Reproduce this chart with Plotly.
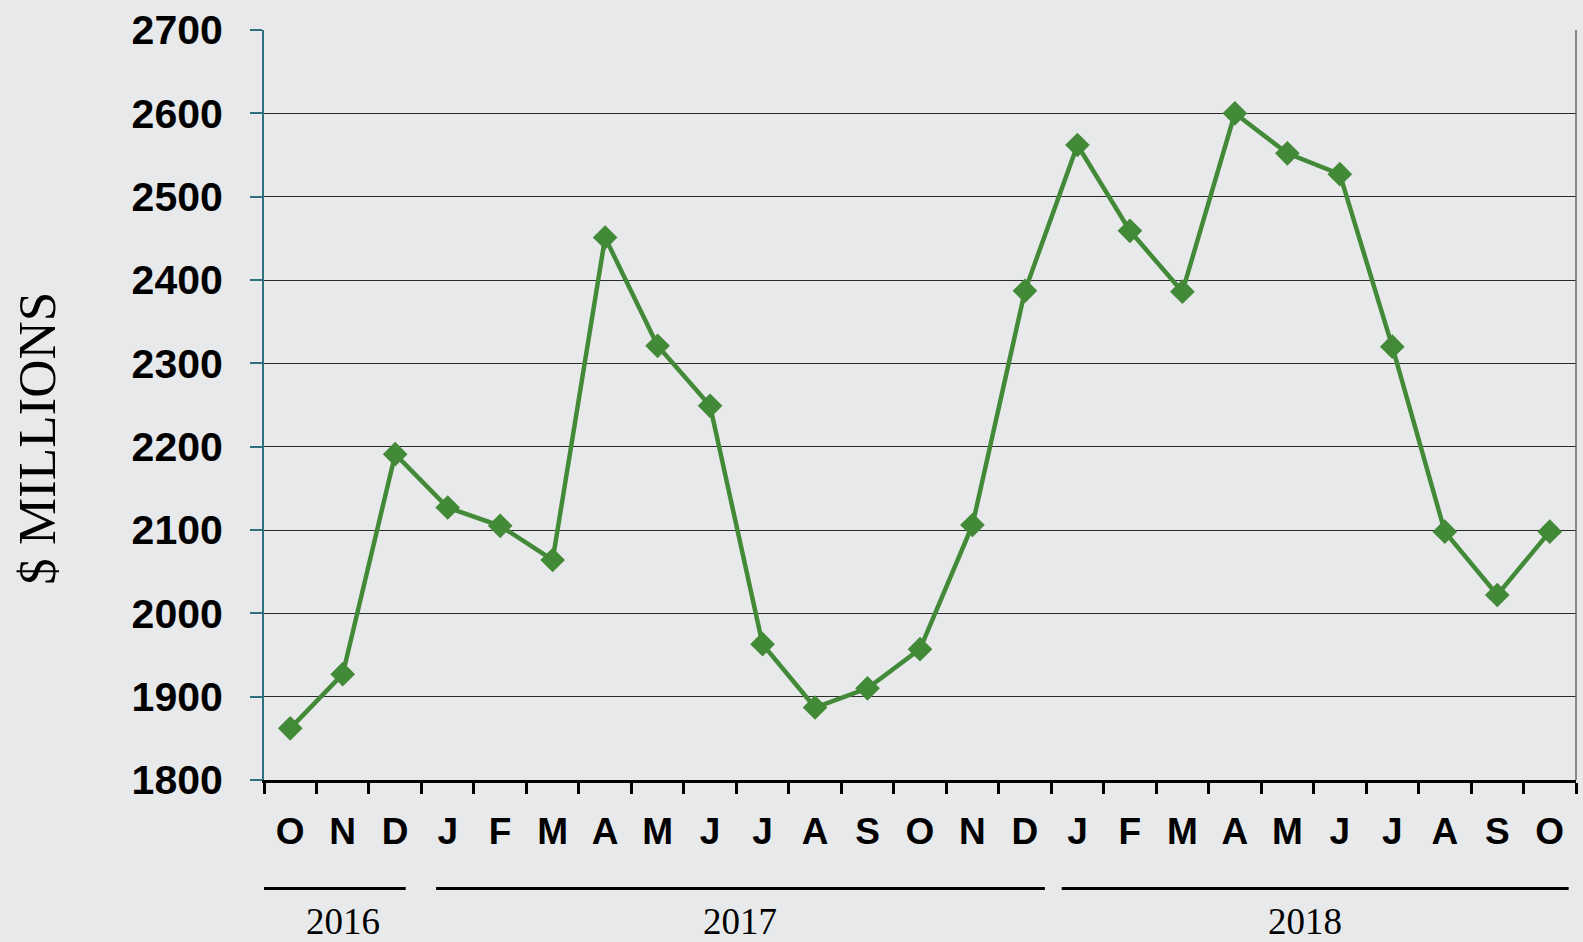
import plotly.graph_objects as go

months = ["O", "N", "D", "J", "F", "M", "A", "M", "J", "J", "A", "S", "O", "N", "D",
          "J", "F", "M", "A", "M", "J", "J", "A", "S", "O"]
values = [1862, 1927, 2191, 2127, 2105, 2064, 2451, 2321, 2249, 1963, 1887, 1910, 1957,
          2106, 2387, 2562, 2459, 2386, 2600, 2552, 2527, 2320, 2098, 2022, 2098]
y_ticks = [1800, 1900, 2000, 2100, 2200, 2300, 2400, 2500, 2600, 2700]
years = ["2016", "2017", "2018"]
# first and last month index covered by each year group
year_spans = [(0, 2), (3, 14), (15, 24)]

x = list(range(len(months)))

GREEN = "#438a38"
TEAL = "#2e6f80"
BG = "#e8e9eb"

fig = go.Figure()
fig.add_trace(go.Scatter(
    x=x, y=values, mode="lines+markers",
    line=dict(color=GREEN, width=4.5),
    marker=dict(symbol="diamond", size=19, color=GREEN),
    showlegend=False,
))

fig.update_layout(
    width=1583, height=942,
    margin=dict(l=264, r=7, t=27, b=162),
    paper_bgcolor=BG,
    plot_bgcolor=BG,
    xaxis=dict(
        range=[-0.5, len(months) - 0.5],
        tickmode="array", tickvals=x, ticktext=months,
        ticks="", showgrid=False, zeroline=False,
        showline=True, linecolor="black", linewidth=3,
        tickfont=dict(family="Liberation Sans, Arial", size=37, color="black", weight="bold"),
        ticklabelstandoff=17,
        minor=dict(tickmode="linear", tick0=-0.5, dtick=1, ticks="outside",
                   ticklen=11, tickwidth=2.5, tickcolor="black", showgrid=False),
    ),
    yaxis=dict(
        range=[1800, 2700],
        tickmode="array", tickvals=y_ticks,
        ticks="outside", ticklen=12, tickwidth=2, tickcolor=TEAL,
        showline=True, linecolor=TEAL, linewidth=2,
        showgrid=True, gridcolor="#2a2a2a", gridwidth=1,
        zeroline=False,
        tickfont=dict(family="Liberation Sans, Arial", size=41, color="black", weight="bold"),
        ticklabelstandoff=19,
    ),
)

# right border of plot area
fig.add_shape(type="line", xref="paper", yref="paper", x0=1, x1=1, y0=0, y1=1,
              line=dict(color="#666666", width=1.5))

# year group lines and labels (offsets are layout tweaks relative to the span edges)
line_offsets = [(0.0, -0.3), (0.28, -0.12), (0.2, -0.14)]
label_shift = [0.0, 0.07, -0.17]
for (a, b), (da, db), sh, yr in zip(year_spans, line_offsets, label_shift, years):
    x0 = a - 0.5 + da
    x1 = b + 0.5 + db
    fig.add_shape(type="line", xref="x", yref="paper", x0=x0, x1=x1,
                  y0=-0.1448, y1=-0.1448, line=dict(color="black", width=3))
    fig.add_annotation(x=(a + b) / 2 + sh, xref="x", y=-0.188, yref="paper",
                       text=yr, showarrow=False, yanchor="middle",
                       font=dict(family="Liberation Serif, Times New Roman", size=37, color="black"))

fig.add_annotation(x=-0.173, xref="paper", y=0.455, yref="paper",
                   text="$ MILLIONS", textangle=-90, showarrow=False,
                   xanchor="center", yanchor="middle",
                   font=dict(family="Liberation Serif, Times New Roman", size=53, color="black"))

fig.write_html(
    "out.html",
    config={"displayModeBar": False},
    post_script="document.body.style.margin='0';document.body.style.background='%s';" % BG,
)
